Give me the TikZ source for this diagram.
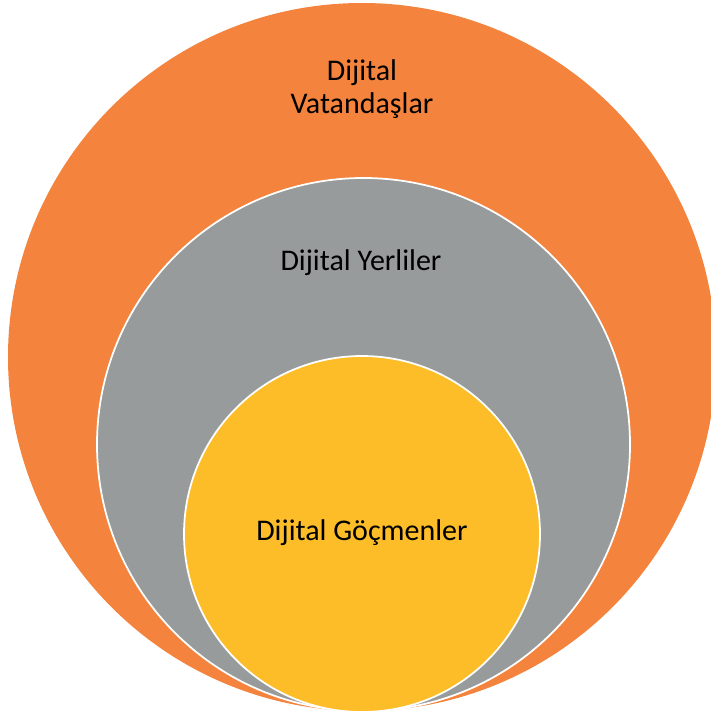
\documentclass[tikz,border=0pt]{standalone}
\usepackage{fontspec}
\setmainfont{Carlito}
\definecolor{turuncu}{HTML}{F3833D}
\definecolor{gri}{HTML}{989B9B}
\definecolor{sari}{HTML}{FDBD28}
\begin{document}
\begin{tikzpicture}[x=0.03cm, y=-0.03cm,
    halka/.style={draw=white, line width=1.5pt},
    etiket/.style={text=black, align=center, font=\fontsize{25.6}{28.5}\selectfont}]

					\useasboundingbox (0,0) rectangle (711,718);
					\clip (0,0) rectangle (711,718);
					% halkalar
					\fill[turuncu] (362,357) circle[radius=354];
					\filldraw[halka, fill=gri] (363.5,444.5) circle[radius=266.5];
					\filldraw[halka, fill=sari] (362,534) circle[radius=178];

					\node[etiket] (vatandas) at (362,89){Dijital\\Vatandaşlar};
					\node[etiket] (yerli) at (361,263){Dijital Yerliler};
					\node[etiket] (gocmen) at (362,533){Dijital Göçmenler};

\end{tikzpicture}
\end{document}
